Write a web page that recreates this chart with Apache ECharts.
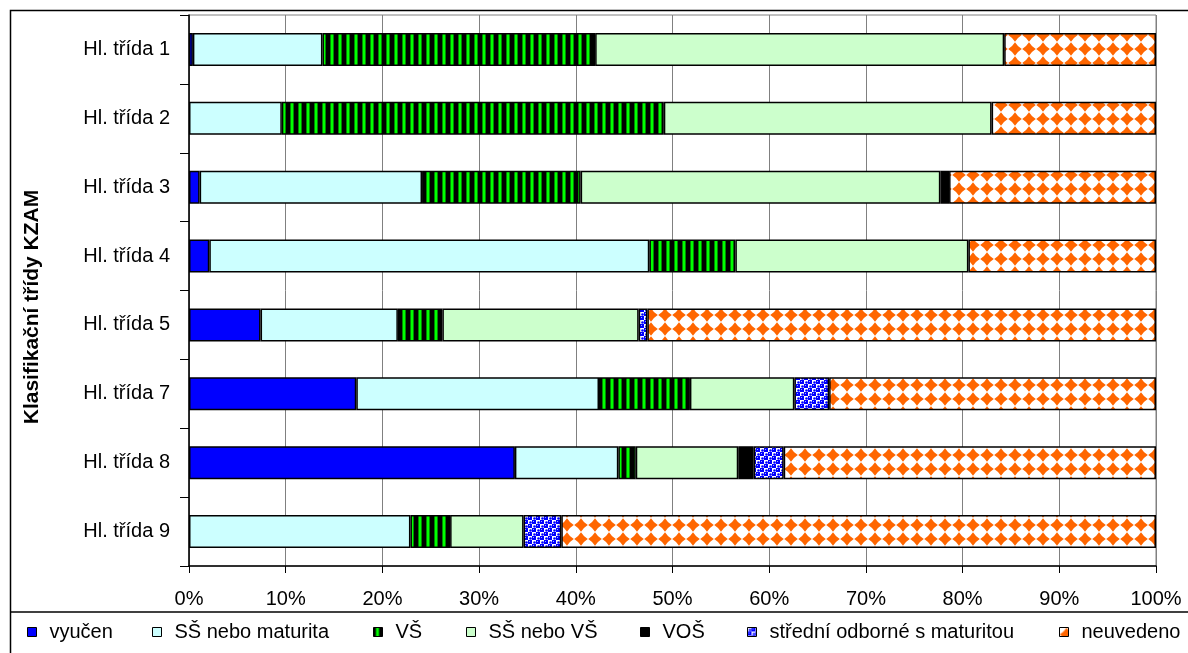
<!DOCTYPE html>
<html>
<head>
<meta charset="utf-8">
<script src="https://cdn.jsdelivr.net/npm/echarts@6/dist/echarts.min.js"></script>
<style>
  html, body { margin: 0; padding: 0; background: #fff; }
  #chart { width: 1188px; height: 653px; }
</style>
</head>
<body>
<div id="chart"></div>
<script>
// Categories (main classes of KZAM), top to bottom
const categories = ['Hl. třída 1', 'Hl. třída 2', 'Hl. třída 3', 'Hl. třída 4',
                    'Hl. třída 5', 'Hl. třída 7', 'Hl. třída 8', 'Hl. třída 9'];

// Share of each education level, in percent, per class
const vyucen      = [0.4, 0,    1.1,  2.1,  7.4,  17.3, 33.7, 0];
const ssMaturita  = [13.4, 9.6, 23.0, 45.5, 14.2, 25.1, 10.7, 22.9];
const vs          = [28.2, 39.5, 16.4, 8.9, 4.6,  9.4,  1.8,  4.1];
const ssNeboVs    = [42.3, 33.9, 37.2, 24.1, 20.3, 10.8, 10.6, 7.6];
const vos         = [0,    0,    0.9,  0,    0,    0,    1.6,  0];
const stredniOdb  = [0,    0,    0,    0,    0.9,  3.6,  3.1,  3.9];
const neuvedeno   = [15.7, 17.0, 21.4, 19.4, 52.6, 33.8, 38.5, 61.5];

const seriesNames = ['vyučen', 'SŠ nebo maturita', 'VŠ', 'SŠ nebo VŠ', 'VOŠ',
                     'střední odborné s maturitou', 'neuvedeno'];

const yAxisTitle = 'Klasifikační třídy KZAM';

const xTicks = { min: 0, max: 100, interval: 10 };

// --- fill patterns -------------------------------------------------------
function tile(w, h, draw) {
  const c = document.createElement('canvas');
  c.width = w; c.height = h;
  draw(c.getContext('2d'), w, h);
  return c;
}

// black with green vertical stripes
const stripeTile = tile(8, 8, (g, w, h) => {
  g.fillStyle = '#000'; g.fillRect(0, 0, w, h);
  g.fillStyle = '#008a00'; g.fillRect(2, 0, 1, h); g.fillRect(5, 0, 1, h);
  g.fillStyle = '#00ff00'; g.fillRect(3, 0, 2, h);
});

// orange solid diamonds on white
const diamondTile = tile(14, 14, (g, w, h) => {
  g.fillStyle = '#fff'; g.fillRect(0, 0, w, h);
  g.fillStyle = '#ff6600';
  const cx = 7, cy = 7, r = 6.8, k = 0.38;
  g.beginPath();
  g.moveTo(cx, cy - r);
  g.quadraticCurveTo(cx + r * k, cy - r * k, cx + r, cy);
  g.quadraticCurveTo(cx + r * k, cy + r * k, cx, cy + r);
  g.quadraticCurveTo(cx - r * k, cy + r * k, cx - r, cy);
  g.quadraticCurveTo(cx - r * k, cy - r * k, cx, cy - r);
  g.fill();
});

// blue and white checks with small bubbles
const bubbleTile = tile(8, 8, (g, w, h) => {
  g.fillStyle = '#0000ff'; g.fillRect(0, 0, w, h);
  g.fillStyle = '#ffffff';
  g.fillRect(0, 0, 4, 4); g.fillRect(4, 4, 4, 4);
  g.fillStyle = '#0000ff';
  g.beginPath(); g.arc(2.5, 2.5, 1.3, 0, Math.PI * 2); g.fill();
  g.beginPath(); g.arc(6.5, 6.5, 1.3, 0, Math.PI * 2); g.fill();
  g.fillStyle = '#9aa8ff';
  g.fillRect(5, 1, 1, 1); g.fillRect(1, 5, 1, 1);
});

const fills = [
  '#0000ff',
  '#ccffff',
  { image: stripeTile, repeat: 'repeat' },
  '#ccffcc',
  '#000000',
  { image: bubbleTile, repeat: 'repeat' },
  { image: diamondTile, repeat: 'repeat' }
];

const values = [vyucen, ssMaturita, vs, ssNeboVs, vos, stredniOdb, neuvedeno];

const font = '"Liberation Sans", Arial, sans-serif';

const series = seriesNames.map((name, i) => ({
  name,
  type: 'bar',
  stack: 'total',
  barWidth: '48%',
  data: values[i].map(v => (v === 0 ? '-' : v)),
  itemStyle: { color: fills[i], borderColor: '#000', borderWidth: 1.5 },
  emphasis: { disabled: true }
}));

// one legend entry per box, laid out along the bottom strip
const legendLeft = [27, 152, 373, 466, 640, 747, 1059];
const legends = seriesNames.map((name, i) => ({
  data: [name],
  left: legendLeft[i],
  top: 622,
  itemWidth: 9,
  itemHeight: 9,
  itemGap: 0,
  padding: 0,
  icon: 'rect',
  itemStyle: { borderColor: '#000', borderWidth: 1 },
  textStyle: { fontFamily: font, fontSize: 20, color: '#000', padding: [0, 0, 0, 8] },
  selectedMode: false
}));

const chart = echarts.init(document.getElementById('chart'), null, { renderer: 'canvas' });
chart.setOption({
  animation: false,
  backgroundColor: '#fff',
  grid: {
    left: 189, right: 32, top: 15, bottom: 87,
    show: true, borderColor: '#808080', borderWidth: 1, backgroundColor: 'transparent'
  },
  xAxis: {
    type: 'value',
    min: xTicks.min, max: xTicks.max, interval: xTicks.interval,
    axisLine: { show: true, lineStyle: { color: '#000', width: 1.5 } },
    axisTick: { show: true, length: 7, lineStyle: { color: '#000' } },
    axisLabel: { formatter: '{value}%', fontFamily: font, fontSize: 20, color: '#000', margin: 23 },
    splitLine: { show: true, lineStyle: { color: '#808080', width: 1 } }
  },
  yAxis: {
    type: 'category',
    data: categories,
    inverse: true,
    axisLine: { show: true, lineStyle: { color: '#000', width: 1.5 } },
    axisTick: { show: true, length: 9, lineStyle: { color: '#000' } },
    axisLabel: { fontFamily: font, fontSize: 20, color: '#000', margin: 19 },
    splitLine: { show: false }
  },
  legend: legends,
  graphic: [
    { type: 'rect', silent: true, shape: { x: 10.5, y: 10.5, width: 1200, height: 700 },
      style: { fill: 'none', stroke: '#000', lineWidth: 1.5 } },
    { type: 'line', silent: true, shape: { x1: 10, y1: 612, x2: 1188, y2: 612 },
      style: { stroke: '#000', lineWidth: 1.5 } },
    { type: 'text', silent: true, x: 32, y: 307, rotation: Math.PI / 2,
      style: { text: yAxisTitle, font: 'bold 21px ' + font, fill: '#000',
               align: 'center', verticalAlign: 'middle' } }
  ],
  series
});
</script>
</body>
</html>
